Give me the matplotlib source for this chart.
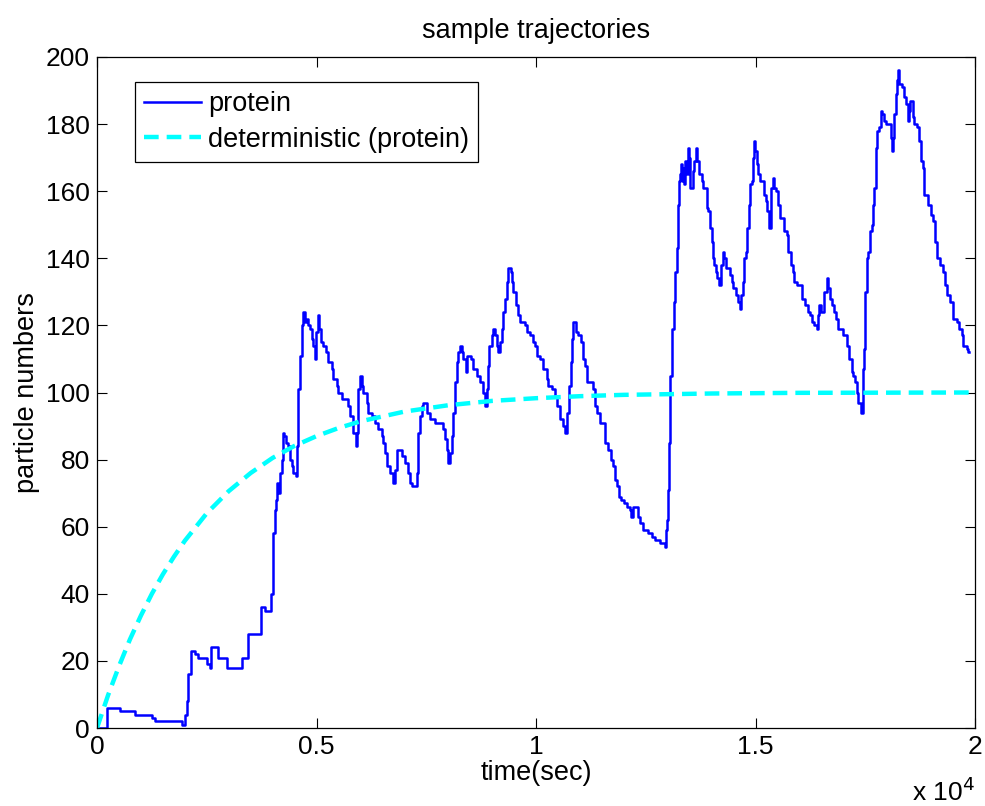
import matplotlib
matplotlib.use("Agg")
import matplotlib.pyplot as plt
from matplotlib.ticker import FixedLocator

plt.rcParams['font.family'] = ['Liberation Sans', 'DejaVu Sans']

# ---- data ----
protein_t = [0, 220, 524, 866, 1245, 1321, 1929, 2004, 2042, 2080, 2141, 2232, 2308, 2498, 2574,
             2589, 2764, 2954, 3295, 3447, 3728, 3827, 3956, 4001, 4017, 4054, 4077, 4092, 4130,
             4168, 4206, 4229, 4259, 4305, 4358, 4396, 4434, 4472, 4525, 4548, 4586, 4624, 4662,
             4700, 4738, 4776, 4814, 4852, 4890, 4928, 4966, 4988, 5026, 5064, 5102, 5155, 5216,
             5269, 5345, 5383, 5459, 5497, 5573, 5725, 5763, 5839, 5900, 5930, 5953, 5991, 6029,
             6067, 6143, 6181, 6256, 6332, 6408, 6484, 6522, 6560, 6598, 6674, 6750, 6788, 6826,
             6940, 7016, 7092, 7130, 7168, 7282, 7320, 7358, 7396, 7434, 7510, 7586, 7699, 7889,
             7927, 7965, 8003, 8041, 8079, 8117, 8155, 8193, 8231, 8269, 8307, 8345, 8406, 8436,
             8520, 8573, 8649, 8725, 8785, 8831, 8876, 8899, 8937, 8990, 9028, 9066, 9104, 9142,
             9180, 9218, 9256, 9294, 9332, 9360, 9420, 9446, 9484, 9545, 9598, 9636, 9750, 9788,
             9864, 9924, 9977, 10015, 10091, 10152, 10243, 10281, 10357, 10433, 10471, 10547,
             10608, 10661, 10714, 10752, 10790, 10813, 10851, 10911, 10965, 11018, 11063, 11116,
             11170, 11291, 11344, 11397, 11458, 11572, 11648, 11701, 11762, 11800, 11838, 11899,
             11929, 12005, 12066, 12141, 12164, 12217, 12331, 12369, 12430, 12559, 12635, 12711,
             12825, 12939, 12962, 12992, 13015, 13038, 13053, 13091, 13114, 13144, 13167, 13205,
             13227, 13250, 13281, 13296, 13319, 13341, 13372, 13394, 13432, 13455, 13478, 13508,
             13569, 13599, 13637, 13675, 13721, 13774, 13812, 13888, 13926, 13964, 14002, 14025,
             14055, 14101, 14131, 14169, 14207, 14252, 14283, 14328, 14420, 14458, 14495, 14556,
             14609, 14647, 14678, 14708, 14738, 14776, 14814, 14845, 14875, 14913, 14936, 14959,
             14989, 15027, 15065, 15103, 15194, 15240, 15270, 15316, 15354, 15392, 15422, 15468,
             15521, 15559, 15650, 15711, 15749, 15802, 15863, 15885, 15938, 16052, 16128, 16204,
             16242, 16280, 16333, 16394, 16432, 16455, 16485, 16561, 16622, 16660, 16698, 16736,
             16789, 16827, 16872, 16986, 17093, 17138, 17191, 17229, 17267, 17305, 17343, 17396,
             17442, 17472, 17495, 17533, 17571, 17609, 17647, 17670, 17700, 17745, 17776, 17814,
             17852, 17890, 17928, 17973, 18080, 18102, 18125, 18155, 18193, 18231, 18254, 18277,
             18330, 18383, 18429, 18467, 18497, 18520, 18558, 18581, 18619, 18672, 18725, 18763,
             18809, 18847, 18938, 18998, 19051, 19089, 19143, 19203, 19264, 19317, 19355, 19431,
             19492, 19583, 19644, 19697, 19720, 19811, 19849, 19864]
protein_n = [0, 6, 5, 4, 3, 2, 1, 4, 8, 16, 23, 22, 21, 19, 18,
             24, 21, 18, 21, 28, 36, 35, 40, 47, 58, 65, 68, 73, 70,
             76, 80, 88, 87, 85, 84, 80, 78, 76, 75, 84, 101, 111, 120,
             124, 121, 122, 120, 119, 116, 114, 110, 118, 123, 119, 115, 114, 112,
             109, 107, 104, 102, 100, 98, 96, 93, 88, 84, 88, 101, 105, 102,
             100, 97, 94, 93, 91, 89, 87, 85, 82, 78, 76, 73, 77, 83,
             81, 79, 76, 73, 72, 76, 88, 93, 96, 97, 94, 92, 91, 89,
             86, 83, 79, 82, 87, 94, 103, 109, 112, 114, 112, 110, 106, 111,
             110, 107, 105, 103, 100, 96, 101, 108, 114, 117, 119, 117, 114, 112,
             115, 119, 124, 128, 133, 137, 136, 133, 130, 126, 123, 121, 120, 118,
             117, 115, 114, 111, 110, 107, 104, 102, 101, 99, 96, 92,
             90, 88, 94, 102, 109, 116, 121, 118, 117, 115, 110, 108,
             103, 101, 96, 94, 91, 85, 83, 80, 78, 74, 72, 69,
             68, 67, 66, 65, 63, 66, 63, 61, 59, 58, 57, 56,
             55, 54, 59, 62, 71, 85, 105, 119, 119, 127, 136, 143,
             156, 163, 165, 168, 163, 167, 162, 169, 165, 173, 170, 161,
             166, 169, 173, 169, 165, 163, 161, 155, 154, 149, 145, 140,
             138, 136, 134, 132, 138, 142, 140, 137, 135, 133, 131, 129,
             127, 125, 129, 133, 140, 142, 149, 156, 162, 163, 170, 175,
             172, 168, 165, 163, 159, 157, 154, 149, 161, 164, 161, 160,
             156, 152, 148, 147, 142, 138, 136, 133, 132, 128, 126, 124,
             123, 121, 120, 119, 123, 126, 124, 130, 134, 131, 128, 126,
             124, 122, 119, 117, 114, 110, 106, 105, 103, 100, 97, 94,
             107, 113, 130, 140, 142, 148, 150, 156, 161, 173, 178, 179,
             184, 183, 181, 180, 176, 172, 176, 183, 189, 193, 196, 192,
             191, 188, 186, 181, 184, 187, 187, 182, 180, 179, 175, 169,
             167, 159, 156, 153, 151, 145, 140, 138, 136, 132, 129, 127,
             122, 121, 119, 117, 114, 113, 112, 112]

det_t = [0, 250, 500, 750, 1000, 1250, 1500, 1750, 2000, 2500, 3000, 3500, 4000, 4500, 5000,
         5500, 6000, 7000, 8000, 9000, 10000, 11000, 12000, 14000, 16000, 18000, 20000]
det_n = [0, 9.7, 18.4, 26.4, 33.5, 40.0, 45.8, 51.0, 55.8, 64.0, 70.6, 76.0, 80.5, 84.1, 87.0,
         89.4, 91.4, 94.3, 96.2, 97.5, 98.3, 98.9, 99.3, 99.7, 99.9, 99.95, 100.0]

y_ticks = [0, 20, 40, 60, 80, 100, 120, 140, 160, 180, 200]
x_ticks = [0, 5000, 10000, 15000, 20000]
x_tick_labels = ['0', '0.5', '1', '1.5', '2']

# ---- figure ----
fig = plt.figure(figsize=(9.85, 8.06), dpi=100)
ax = fig.add_axes([97 / 985, 1 - 728 / 806, (975 - 97) / 985, (728 - 57) / 806])

ax.plot(protein_t, protein_n, color=(0, 0, 1), lw=1.8, drawstyle='steps-post', label='protein')
ax.plot(det_t, det_n, color=(0, 1, 1), lw=3.2, dashes=(3.3, 1.8), label='deterministic (protein)')

ax.set_xlim(0, 20000)
ax.set_ylim(0, 200)
ax.xaxis.set_major_locator(FixedLocator(x_ticks))
ax.set_xticklabels(x_tick_labels)
ax.yaxis.set_major_locator(FixedLocator(y_ticks))
ax.tick_params(direction='in', length=7, width=0.8, labelsize=19, top=True, right=True, pad=5)
for s in ax.spines.values():
    s.set_linewidth(0.9)

ax.set_title('sample trajectories', fontsize=19.5, pad=14)
ax.set_xlabel('time(sec)', fontsize=19.5, labelpad=1)
ax.set_ylabel('particle numbers', fontsize=19.5, labelpad=4)
ax.text(1.0, -0.095, r'x 10$^{4}$', transform=ax.transAxes, ha='right', va='center', fontsize=19)

leg = ax.legend(loc='upper left', bbox_to_anchor=(0.043, 0.963), fontsize=19.5, frameon=True,
                fancybox=False, edgecolor='black', framealpha=1, handlelength=2.1,
                handletextpad=0.25, borderpad=0.35, labelspacing=0.35, borderaxespad=0)
leg.get_frame().set_linewidth(0.9)

fig.savefig('out.png', dpi=100)
